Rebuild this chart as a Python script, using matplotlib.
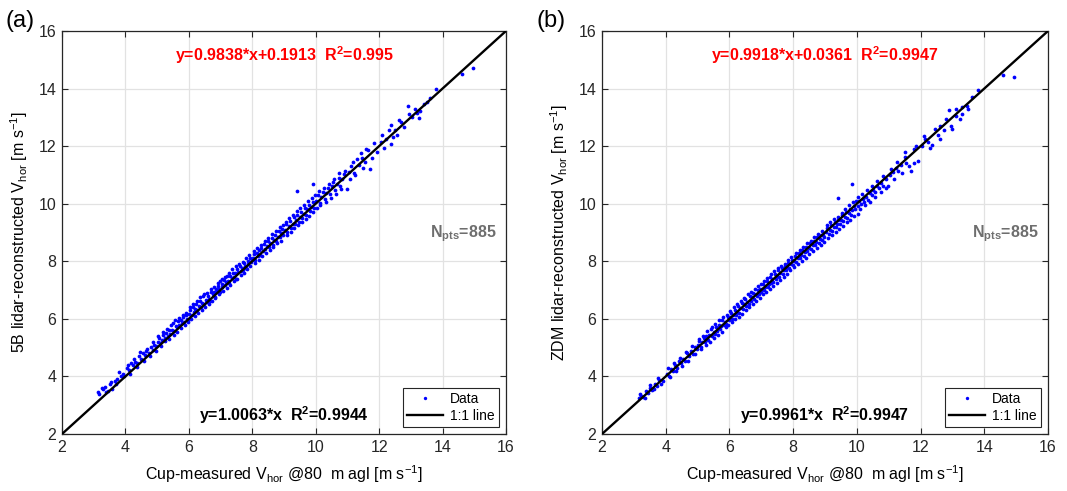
import matplotlib
matplotlib.use("Agg")
import matplotlib.pyplot as plt

plt.rcParams["font.family"] = ["Liberation Sans", "DejaVu Sans"]
plt.rcParams["mathtext.fontset"] = "custom"
plt.rcParams["mathtext.rm"] = "Liberation Sans"
plt.rcParams["mathtext.bf"] = "Liberation Sans:bold"
plt.rcParams["mathtext.it"] = "Liberation Sans:italic"
plt.rcParams["mathtext.default"] = "regular"

# ---------------------------------------------------------------------------
# (a) cup vs 5B lidar (thinned)
cup_a = [3.12, 3.18, 3.30, 3.36, 3.45, 3.52, 3.58, 3.66, 3.74, 3.85, 3.93,
         4.05, 4.12, 4.18, 4.25, 4.31, 4.38, 4.44, 4.50, 4.56, 4.62, 4.68, 4.73, 4.80, 4.86, 4.91, 4.97,
         5.02, 5.06, 5.10, 5.15, 5.19, 5.24, 5.28, 5.33, 5.37, 5.41, 5.46, 5.50, 5.54, 5.58, 5.62, 5.66,
         5.70, 5.74, 5.78, 5.82, 5.86, 5.90, 5.94, 5.98,
         6.02, 6.05, 6.09, 6.12, 6.16, 6.20, 6.23, 6.27, 6.31, 6.34, 6.38, 6.42, 6.45, 6.49, 6.53, 6.56,
         6.60, 6.64, 6.67, 6.71, 6.75, 6.78, 6.82, 6.86, 6.89, 6.93, 6.96, 6.99,
         7.03, 7.06, 7.10, 7.13, 7.17, 7.20, 7.24, 7.28, 7.31, 7.35, 7.38, 7.42, 7.46, 7.49, 7.53, 7.56,
         7.60, 7.64, 7.67, 7.71, 7.74, 7.78, 7.81, 7.85, 7.88, 7.92, 7.95, 7.98,
         8.02, 8.06, 8.10, 8.14, 8.18, 8.21, 8.25, 8.29, 8.33, 8.37, 8.41, 8.45, 8.49, 8.53, 8.57, 8.61,
         8.64, 8.68, 8.72, 8.76, 8.80, 8.84, 8.88, 8.91, 8.95, 8.98,
         9.03, 9.07, 9.11, 9.15, 9.19, 9.23, 9.27, 9.31, 9.35, 9.39, 9.42, 9.46, 9.50, 9.54, 9.58, 9.62,
         9.66, 9.70, 9.74, 9.78, 9.82, 9.86, 9.90, 9.95, 9.40, 9.90,
         10.02, 10.07, 10.12, 10.17, 10.22, 10.28, 10.33, 10.38, 10.44, 10.50, 10.55, 10.60, 10.66,
         10.72, 10.78, 10.84, 10.90, 10.98,
         11.05, 11.12, 11.20, 11.30, 11.38, 11.45, 11.55, 11.60, 11.70, 11.85,
         12.05, 12.10, 12.22, 12.36, 12.36, 12.50, 12.56, 12.70, 12.90,
         13.05, 13.20, 13.30, 13.40, 13.60, 13.80, 14.60, 14.95]
lidar_5b = [3.47, 3.40, 3.55, 3.62, 3.50, 3.72, 3.58, 3.85, 3.92, 4.02, 4.10,
            4.28, 4.22, 4.45, 4.38, 4.50, 4.48, 4.70, 4.62, 4.80, 4.74, 4.95, 4.83, 5.02, 4.93, 5.10, 5.05,
            5.20, 5.35, 5.15, 5.28, 5.45, 5.32, 5.52, 5.40, 5.62, 5.48, 5.60, 5.85, 5.58, 5.75, 5.70, 5.92,
            5.78, 5.95, 5.84, 6.05, 5.90, 6.12, 6.00, 5.96,
            6.18, 6.30, 6.12, 6.40, 6.25, 6.33, 6.52, 6.30, 6.45, 6.62, 6.40, 6.55, 6.78, 6.52, 6.66, 6.58,
            6.80, 6.70, 6.62, 6.92, 6.85, 6.95, 6.76, 7.02, 6.98, 7.15, 7.05, 6.95,
            7.20, 7.10, 7.35, 7.18, 7.28, 7.48, 7.30, 7.25, 7.50, 7.42, 7.60, 7.45, 7.58, 7.40, 7.72, 7.62,
            7.85, 7.66, 7.78, 7.70, 7.95, 7.84, 7.76, 8.02, 7.92, 8.10, 7.98, 8.05,
            8.12, 8.25, 8.05, 8.30, 8.20, 8.40, 8.22, 8.45, 8.35, 8.60, 8.42, 8.52, 8.70, 8.48, 8.62, 8.80,
            8.58, 8.75, 8.92, 8.70, 8.85, 9.05, 8.84, 8.98, 9.12, 8.90,
            9.10, 9.28, 9.02, 9.22, 9.40, 9.15, 9.30, 9.55, 9.30, 9.42, 9.60, 9.38, 9.55, 9.72, 9.50, 9.64,
            9.85, 9.62, 9.80, 9.95, 9.75, 9.90, 10.05, 9.85, 10.45, 10.67,
            10.10, 10.30, 10.02, 10.22, 10.40, 10.15, 10.38, 10.55, 10.32, 10.60, 10.75, 10.48, 10.70,
            10.90, 10.62, 10.85, 11.02, 10.50,
            11.10, 11.30, 11.05, 11.55, 11.35, 11.60, 11.45, 11.90, 11.20, 12.10,
            12.15, 12.40, 12.25, 12.06, 12.75, 12.55, 12.40, 12.85, 13.40,
            13.00, 13.15, 13.22, 13.45, 13.67, 14.00, 14.50, 14.70]
# more points from the wider part of the band in (a): (cup, lidar)
band_a = [(3.25, 3.60), (3.40, 3.45), (3.55, 3.80), (3.70, 3.72), (3.80, 4.15), (3.95, 4.00),
          (4.08, 4.40), (4.15, 4.10), (4.28, 4.60), (4.35, 4.32), (4.47, 4.85), (4.58, 4.55),
          (4.65, 4.90), (4.77, 4.70), (4.88, 5.18), (4.95, 4.88),
          (5.04, 5.42), (5.12, 5.05), (5.17, 5.55), (5.26, 5.22), (5.31, 5.65), (5.39, 5.30),
          (5.44, 5.78), (5.52, 5.45), (5.56, 5.95), (5.64, 5.55), (5.68, 6.02), (5.76, 5.68),
          (5.80, 6.15), (5.88, 5.80), (5.92, 6.22), (5.97, 5.88),
          (6.03, 6.40), (6.08, 6.00), (6.14, 6.50), (6.18, 6.10), (6.25, 6.62), (6.29, 6.20),
          (6.36, 6.75), (6.40, 6.30), (6.47, 6.85), (6.51, 6.42), (6.58, 6.90), (6.62, 6.52),
          (6.69, 7.05), (6.73, 6.62), (6.80, 7.12), (6.84, 6.72), (6.91, 7.25), (6.95, 6.85), (6.98, 7.30),
          (7.04, 7.40), (7.08, 6.98), (7.15, 7.45), (7.19, 7.08), (7.26, 7.58), (7.30, 7.18),
          (7.37, 7.72), (7.41, 7.30), (7.48, 7.82), (7.52, 7.40), (7.59, 7.92), (7.63, 7.52),
          (7.70, 7.98), (7.73, 7.60), (7.80, 8.10), (7.84, 7.72), (7.91, 8.22), (7.94, 7.82),
          (8.04, 8.35), (8.08, 7.95), (8.16, 8.45), (8.20, 8.05), (8.27, 8.58), (8.31, 8.18),
          (8.39, 8.70), (8.43, 8.28), (8.51, 8.82), (8.55, 8.40), (8.63, 8.95), (8.66, 8.50),
          (8.74, 9.05), (8.78, 8.62), (8.86, 9.18), (8.90, 8.72), (8.97, 9.25),
          (9.05, 9.38), (9.09, 8.92), (9.17, 9.50), (9.21, 9.02), (9.29, 9.62), (9.33, 9.15),
          (9.41, 9.75), (9.44, 9.25), (9.52, 9.85), (9.56, 9.35), (9.64, 9.95), (9.68, 9.48),
          (9.76, 10.10), (9.80, 9.58), (9.88, 10.20), (9.92, 9.70), (9.97, 10.30),
          (10.04, 9.85), (10.10, 10.45), (10.15, 9.95), (10.25, 10.55), (10.31, 10.05), (10.41, 10.70),
          (10.47, 10.20), (10.57, 10.85), (10.63, 10.35), (10.75, 11.05), (10.81, 10.50), (10.93, 11.15),
          (11.08, 10.85), (11.18, 11.45), (11.25, 11.00), (11.42, 11.75), (11.50, 11.25),
          (11.65, 11.85), (11.78, 11.60), (11.92, 11.80),
          (12.15, 11.95), (12.30, 12.55), (12.45, 12.30), (12.62, 12.90), (12.80, 12.65), (12.95, 13.10),
          (13.12, 13.30), (13.25, 12.98), (13.50, 13.55)]

# (b) cup vs ZDM lidar
cup_b = [3.15, 3.22, 3.30, 3.38, 3.45, 3.52, 3.58, 3.65, 3.72, 3.80, 3.90,
         4.03, 4.10, 4.16, 4.22, 4.29, 4.35, 4.42, 4.48, 4.55, 4.61, 4.67, 4.73, 4.80, 4.85, 4.91, 4.97,
         5.02, 5.06, 5.10, 5.15, 5.19, 5.24, 5.28, 5.33, 5.37, 5.41, 5.46, 5.50, 5.54, 5.58, 5.62, 5.66,
         5.70, 5.74, 5.78, 5.82, 5.86, 5.90, 5.94, 5.98,
         6.02, 6.05, 6.09, 6.12, 6.16, 6.20, 6.23, 6.27, 6.31, 6.34, 6.38, 6.42, 6.45, 6.49, 6.53, 6.56,
         6.60, 6.64, 6.67, 6.71, 6.75, 6.78, 6.82, 6.86, 6.89, 6.93, 6.96, 6.99,
         7.03, 7.06, 7.10, 7.13, 7.17, 7.20, 7.24, 7.28, 7.31, 7.35, 7.38, 7.42, 7.46, 7.49, 7.53, 7.56,
         7.60, 7.64, 7.67, 7.71, 7.74, 7.78, 7.81, 7.85, 7.88, 7.92, 7.95, 7.98,
         8.02, 8.06, 8.10, 8.14, 8.18, 8.21, 8.25, 8.29, 8.33, 8.37, 8.41, 8.45, 8.49, 8.53, 8.57, 8.61,
         8.64, 8.68, 8.72, 8.76, 8.80, 8.84, 8.88, 8.91, 8.95, 8.98,
         9.03, 9.07, 9.11, 9.15, 9.19, 9.23, 9.27, 9.31, 9.35, 9.39, 9.42, 9.46, 9.50, 9.54, 9.58, 9.62,
         9.66, 9.70, 9.74, 9.78, 9.82, 9.86, 9.90, 9.95, 9.40, 9.86,
         10.03, 10.05, 10.08, 10.13, 10.18, 10.23, 10.28, 10.34, 10.40, 10.46, 10.52, 10.58, 10.64,
         10.70, 10.76, 10.82, 10.90, 10.98,
         11.05, 11.12, 11.22, 11.30, 11.40, 11.50, 11.55, 11.70, 11.80, 11.85,
         12.05, 12.10, 12.22, 12.36, 12.56, 12.60, 12.75, 12.90, 13.00,
         13.10, 13.30, 13.30, 13.45, 13.60, 13.80, 14.60, 14.93]
lidar_zdm = [3.25, 3.32, 3.28, 3.48, 3.42, 3.60, 3.52, 3.75, 3.68, 3.88, 3.85,
             4.10, 4.02, 4.25, 4.18, 4.40, 4.30, 4.55, 4.45, 4.62, 4.52, 4.80, 4.70, 4.88, 4.78, 5.02, 4.95,
             5.08, 5.22, 5.02, 5.18, 5.35, 5.20, 5.40, 5.28, 5.45, 5.65, 5.42, 5.55, 5.48, 5.72, 5.58, 5.80,
             5.65, 5.75, 5.95, 5.78, 5.88, 5.82, 6.08, 5.95,
             6.05, 6.20, 6.00, 6.15, 6.32, 6.12, 6.25, 6.45, 6.22, 6.38, 6.55, 6.35, 6.50, 6.70, 6.45, 6.60,
             6.52, 6.80, 6.62, 6.75, 6.90, 6.68, 6.85, 6.78, 7.00, 6.88, 7.05, 6.92,
             7.05, 7.20, 7.00, 7.12, 7.30, 7.10, 7.22, 7.45, 7.25, 7.38, 7.28, 7.55, 7.40, 7.50, 7.68, 7.45,
             7.58, 7.75, 7.55, 7.68, 7.85, 7.70, 7.80, 7.95, 7.75, 7.90, 8.05, 7.88,
             8.02, 8.18, 7.98, 8.12, 8.30, 8.10, 8.22, 8.40, 8.20, 8.32, 8.50, 8.35, 8.45, 8.62, 8.42, 8.55,
             8.72, 8.55, 8.68, 8.85, 8.65, 8.78, 8.92, 8.75, 8.90, 8.85,
             9.00, 9.15, 8.95, 9.08, 9.25, 9.05, 9.20, 9.38, 9.18, 9.30, 9.45, 9.28, 9.42, 9.60, 9.40, 9.55,
             9.70, 9.52, 9.68, 9.82, 9.62, 9.78, 9.92, 9.80, 10.20, 10.70,
             9.92, 9.65, 10.10, 10.00, 10.18, 10.05, 10.25, 10.12, 10.38, 10.30, 10.48, 10.40, 10.62,
             10.55, 10.72, 10.60, 10.85, 10.60,
             11.00, 11.10, 11.25, 11.12, 11.35, 11.80, 11.40, 11.15, 11.40, 12.00,
             12.00, 12.35, 12.15, 12.05, 12.40, 12.70, 12.55, 13.25, 12.60,
             13.05, 13.35, 13.10, 13.40, 13.70, 13.95, 14.47, 14.40]
# more points from the wider part of the band in (b): (cup, lidar)
band_b = [(3.20, 3.40), (3.35, 3.25), (3.50, 3.70), (3.62, 3.55), (3.76, 3.95), (3.86, 3.72),
          (4.06, 4.28), (4.13, 3.98), (4.25, 4.45), (4.32, 4.18), (4.45, 4.65), (4.52, 4.35),
          (4.63, 4.85), (4.70, 4.55), (4.83, 5.05), (4.93, 4.78),
          (5.04, 5.30), (5.12, 4.95), (5.17, 5.42), (5.26, 5.08), (5.31, 5.58), (5.39, 5.20),
          (5.44, 5.70), (5.52, 5.35), (5.56, 5.82), (5.64, 5.45), (5.68, 5.95), (5.76, 5.55),
          (5.80, 6.05), (5.88, 5.70), (5.92, 6.15), (5.97, 5.78),
          (6.03, 6.28), (6.08, 5.88), (6.14, 6.40), (6.18, 5.98), (6.25, 6.52), (6.29, 6.08),
          (6.36, 6.62), (6.40, 6.18), (6.47, 6.72), (6.51, 6.30), (6.58, 6.85), (6.62, 6.40),
          (6.69, 6.95), (6.73, 6.50), (6.80, 7.05), (6.84, 6.62), (6.91, 7.15), (6.95, 6.72), (6.98, 7.22),
          (7.04, 6.85), (7.08, 7.32), (7.15, 6.95), (7.19, 7.42), (7.26, 7.05), (7.30, 7.55),
          (7.37, 7.15), (7.41, 7.65), (7.48, 7.25), (7.52, 7.75), (7.59, 7.35), (7.63, 7.85),
          (7.70, 7.45), (7.73, 7.92), (7.80, 7.55), (7.84, 8.05), (7.91, 7.68), (7.94, 8.15),
          (8.04, 7.80), (8.08, 8.28), (8.16, 7.92), (8.20, 8.40), (8.27, 8.02), (8.31, 8.50),
          (8.39, 8.12), (8.43, 8.62), (8.51, 8.25), (8.55, 8.72), (8.63, 8.35), (8.66, 8.85),
          (8.74, 8.45), (8.78, 8.95), (8.86, 8.55), (8.90, 9.05), (8.97, 8.68),
          (9.05, 9.25), (9.09, 8.82), (9.17, 9.35), (9.21, 8.90), (9.29, 9.48), (9.33, 9.02),
          (9.41, 9.55), (9.44, 9.12), (9.52, 9.68), (9.56, 9.22), (9.64, 9.80), (9.68, 9.35),
          (9.76, 9.95), (9.80, 9.45), (9.88, 10.05), (9.92, 9.58), (9.97, 10.10),
          (10.04, 10.22), (10.10, 9.82), (10.15, 10.35), (10.25, 9.95), (10.31, 10.48), (10.41, 10.05),
          (10.47, 10.62), (10.57, 10.25), (10.63, 10.78), (10.75, 10.40), (10.81, 10.95), (10.93, 10.55),
          (11.08, 11.20), (11.18, 10.85), (11.25, 11.45), (11.42, 11.05), (11.50, 11.62),
          (11.65, 11.30), (11.78, 11.90), (11.92, 11.50),
          (12.15, 12.25), (12.30, 11.95), (12.45, 12.60), (12.62, 12.25), (12.80, 12.95), (12.95, 12.70),
          (13.12, 13.30), (13.25, 12.95), (13.50, 13.30)]

ticks = [2, 4, 6, 8, 10, 12, 14, 16]
one_to_one = [2, 16]


def draw_panel(ax, x, y, band, ylab, fit_txt, origin_txt, tag, tag_x):
    xs = list(x) + [p[0] for p in band]
    ys = list(y) + [p[1] for p in band]
    ax.grid(True, color="#e2e2e2", lw=0.9, zorder=0)
    ax.plot(xs, ys, "o", color="blue", ms=2.7, mew=0, label="Data", zorder=2)
    ax.plot(one_to_one, one_to_one, color="black", lw=1.7, label="1:1 line", zorder=3)
    ax.set_xlim(2, 16)
    ax.set_ylim(2, 16)
    ax.set_xticks(ticks)
    ax.set_yticks(ticks)
    ax.tick_params(direction="in", length=4, width=0.8, top=True, right=True,
                   labelsize=11.5, pad=4, colors="#262626")
    for sp in ax.spines.values():
        sp.set_color("#262626")
        sp.set_linewidth(0.9)
    ax.set_axisbelow(True)
    ax.set_xlabel("Cup-measured V$_{hor}$ @80  m agl [m s$^{-1}$]", fontsize=11.5, labelpad=6)
    ax.set_ylabel(ylab, fontsize=11.5, labelpad=6)

    ax.text(9.0, 15.17, fit_txt, color="red", fontsize=11.5, fontweight="bold",
            ha="center", va="center")
    ax.text(9.0, 2.66, origin_txt, color="black", fontsize=11.5, fontweight="bold",
            ha="center", va="center")
    ax.text(13.6, 8.85, r"$\mathbf{N_{pts}}$=885", color="#6e6e6e", fontsize=11.5,
            fontweight="bold", ha="left", va="baseline")

    leg = ax.legend(loc="lower right", fontsize=10, frameon=True, fancybox=False,
                    edgecolor="#262626", framealpha=1, borderaxespad=0.5,
                    handlelength=2.6, handletextpad=0.5, borderpad=0.3,
                    labelspacing=0.2, markerscale=0.9)
    leg.get_frame().set_linewidth(0.8)

    fig.text(tag_x, 0.957, tag, fontsize=17, ha="left", va="center")


fig = plt.figure(figsize=(10.67, 4.91), dpi=100)
ax_a = fig.add_axes([0.0581, 0.1161, 0.4161, 0.8208])
ax_b = fig.add_axes([0.5642, 0.1161, 0.4180, 0.8208])

draw_panel(ax_a, cup_a, lidar_5b, band_a, "5B lidar-reconstructed V$_{hor}$ [m s$^{-1}$]",
           r"y=0.9838*x+0.1913  R$^{\mathbf{2}}$=0.995",
           r"y=1.0063*x  R$^{\mathbf{2}}$=0.9944", "(a)", 0.005)
draw_panel(ax_b, cup_b, lidar_zdm, band_b, "ZDM lidar-reconstructed V$_{hor}$ [m s$^{-1}$]",
           r"y=0.9918*x+0.0361  R$^{\mathbf{2}}$=0.9947",
           r"y=0.9961*x  R$^{\mathbf{2}}$=0.9947", "(b)", 0.503)

fig.savefig("out.png", dpi=100)
